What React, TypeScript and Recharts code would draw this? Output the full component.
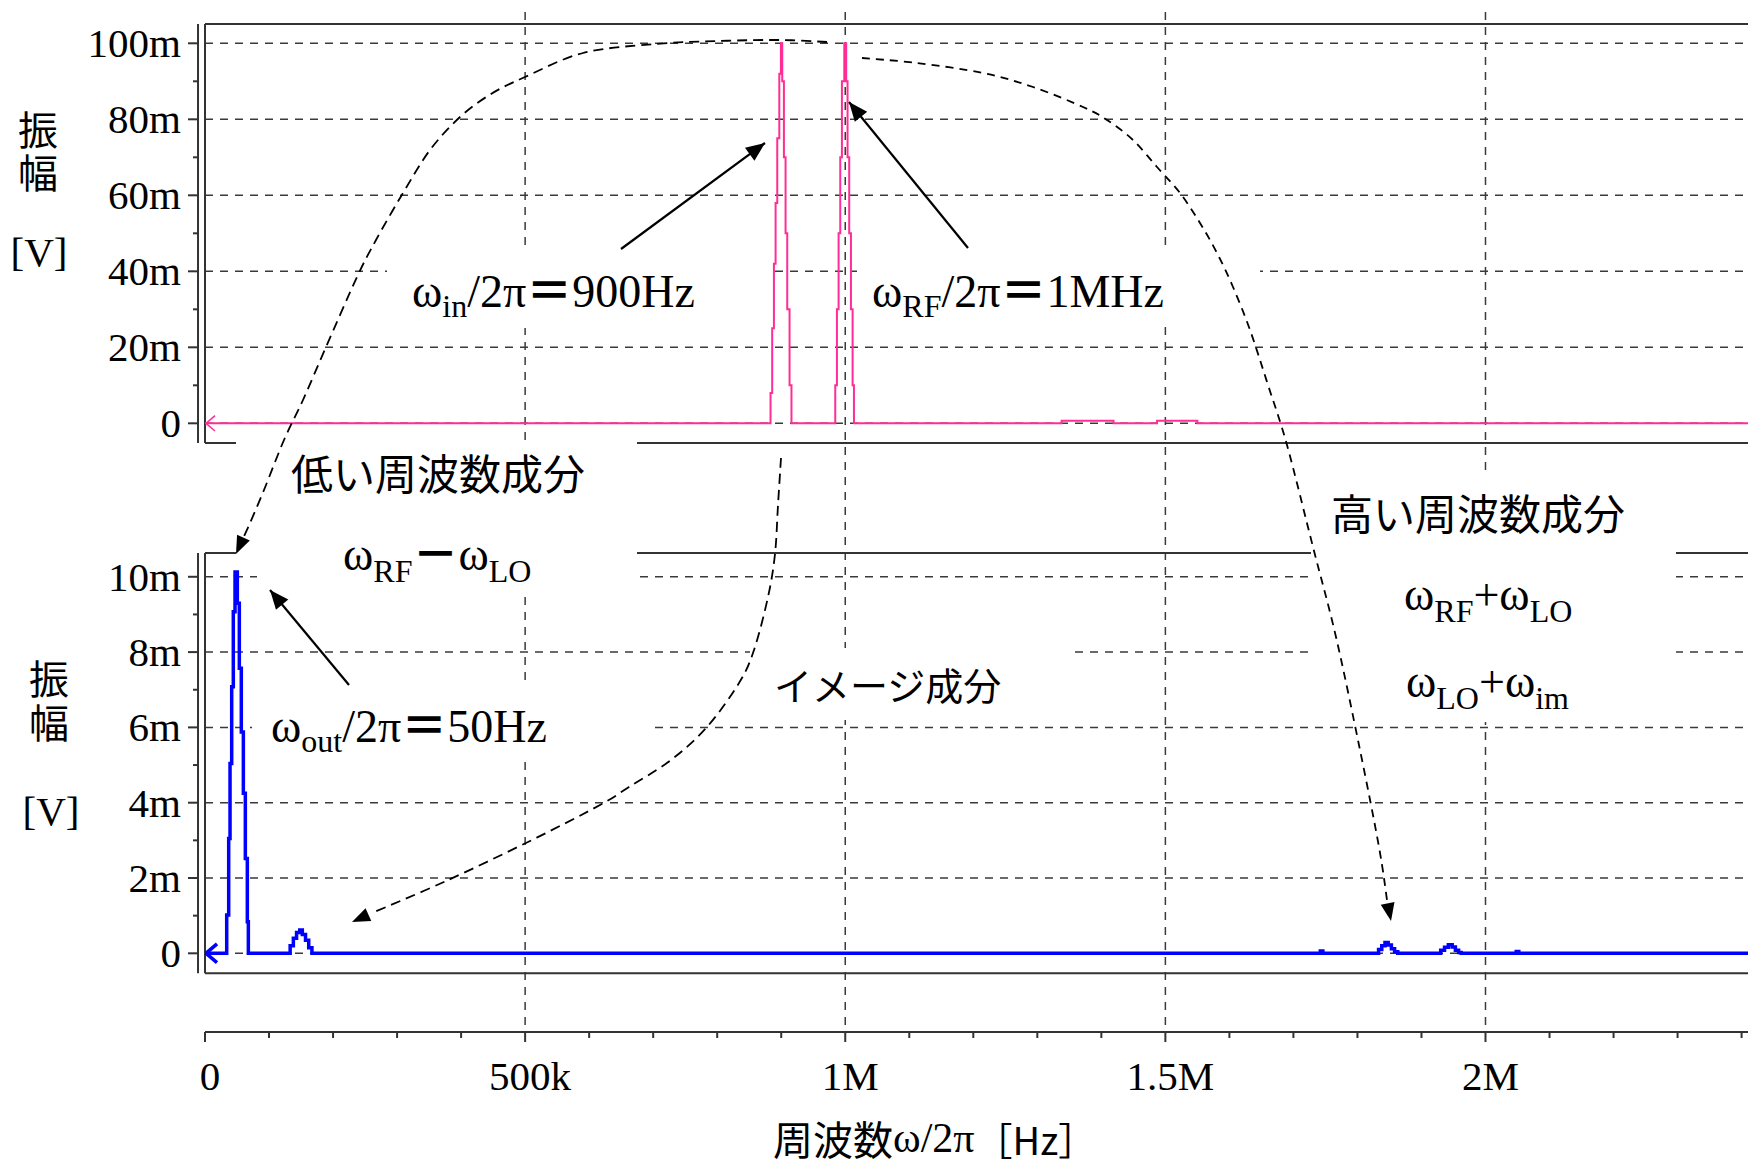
import React from "react";
import { LineChart, Line, XAxis, YAxis, CartesianGrid, ReferenceLine } from "recharts";

const W = 1748;
const H = 1167;

// upper panel: mixer input spectrum (amplitude in mV)
const topFreq = [
  0, 883300, 885900, 888600, 891200, 893800, 897000, 899500, 901600, 904200, 906800, 909400, 913000, 916000,
  984400, 987000, 989600, 992200, 994800, 998500, 1001500, 1003600, 1006200, 1008900, 1011500, 1013600,
  1338000, 1419000, 1487000, 1550000, 2410000,
];
const topAmp = [
  0, 8, 25, 42, 58, 75, 92, 100, 90, 70, 50, 30, 10, 0,
  10, 30, 50, 70, 90, 100, 90, 70, 50, 30, 10, 0,
  0.7, 0, 0.7, 0, 0,
];

// lower panel: mixer output spectrum (amplitude in mV)
const botFreq = [
  0, 33900, 37000, 39100, 41700, 44200, 46900, 50500, 53600, 56700, 59900, 63000, 66100, 67700,
  133000, 138000, 143000, 148000, 152000, 157000, 162000, 167000,
  1742000, 1746000,
  1833000, 1838000, 1843000, 1848000, 1853000, 1858000, 1863000,
  1930000, 1936000, 1942000, 1948000, 1953000, 1958000, 1962000,
  2048000, 2052000, 2410000,
];
const botAmp = [
  0, 1.02, 3.05, 5.04, 7.08, 9.07, 10.13, 9.3, 7.57, 5.88, 4.25, 2.52, 0.84, 0,
  0.2, 0.4, 0.55, 0.62, 0.5, 0.35, 0.15, 0,
  0.06, 0,
  0.1, 0.2, 0.29, 0.22, 0.12, 0.04, 0,
  0.08, 0.16, 0.23, 0.17, 0.08, 0.02, 0,
  0.05, 0, 0,
];

const xTicks = [
  0, 100000, 200000, 300000, 400000, 500000, 600000, 700000, 800000, 900000, 1000000, 1100000, 1200000,
  1300000, 1400000, 1500000, 1600000, 1700000, 1800000, 1900000, 2000000, 2100000, 2200000, 2300000, 2400000,
];
const xMajor = [0, 500000, 1000000, 1500000, 2000000];
const xLabels = ["0", "500k", "1M", "1.5M", "2M"];
const xGrid = [500000, 1000000, 1500000, 2000000];

const topYTicks = [0, 10, 20, 30, 40, 50, 60, 70, 80, 90, 100];
const topYMajor = [0, 20, 40, 60, 80, 100];
const topYLabels = ["0", "20m", "40m", "60m", "80m", "100m"];

const botYTicks = [0, 1, 2, 3, 4, 5, 6, 7, 8, 9, 10];
const botYMajor = [0, 2, 4, 6, 8, 10];
const botYLabels = ["0", "2m", "4m", "6m", "8m", "10m"];

const topData = topFreq.map((f, i) => ({ f, v: topAmp[i] }));
const botData = botFreq.map((f, i) => ({ f, v: botAmp[i] }));

const SERIF = "'Liberation Serif', 'Times New Roman', 'Noto Sans CJK JP', serif";
const CJK = "'Noto Sans CJK JP', 'Noto Sans CJK SC', sans-serif";
const PINK = "#ff2d95";
const BLUE = "#0000ff";
const FRAME = "#333";
const GRID = "#3a3a3a";

const X_DOMAIN: [number, number] = [0, 2410000];
const TOP_DOMAIN: [number, number] = [-5.18, 105.08];
const BOT_DOMAIN: [number, number] = [-2.09, 25.0];
const BOT_FRAME_TOP = 10.63;
const BOT_FRAME_BOTTOM = -0.53;
const OUTER_AXIS_X = -10900; // second vertical line just left of the frame

function makeYTick(major: number[], labels: string[]) {
  return (props: any) => {
    const { x, y, payload } = props;
    const i = major.indexOf(payload.value);
    return (
      <g>
        <line x1={i >= 0 ? x - 17 : x - 12} x2={x - 7} y1={y} y2={y} stroke={FRAME} strokeWidth={2} />
        {i >= 0 && (
          <text x={x - 24} y={y} textAnchor="end" dominantBaseline="central" fontFamily={SERIF} fontSize={41} fill="#000">
            {labels[i]}
          </text>
        )}
      </g>
    );
  };
}

const TopYTick = makeYTick(topYMajor, topYLabels);
const BotYTick = makeYTick(botYMajor, botYLabels);

function XTick(props: any) {
  const { x, y, payload } = props;
  const i = xMajor.indexOf(payload.value);
  return (
    <g>
      <line x1={x} x2={x} y1={y} y2={y + (i >= 0 ? 10 : 6)} stroke={FRAME} strokeWidth={2} />
      {i >= 0 && (
        <text x={x + 5} y={y + 44} textAnchor="middle" dominantBaseline="central" fontFamily={SERIF} fontSize={41} fill="#000">
          {xLabels[i]}
        </text>
      )}
    </g>
  );
}

function chevron(color: string, w: number, size: number) {
  return (props: any) => {
    const { cx, cy, index } = props;
    if (index !== 0) return <g key={index} />;
    return (
      <path
        key={index}
        d={`M${cx + size + 1},${cy - size * 0.85} L${cx + 1},${cy} L${cx + size + 1},${cy + size * 0.85}`}
        fill="none"
        stroke={color}
        strokeWidth={w}
      />
    );
  };
}

type P = [number, number];

function smooth(pts: P[]) {
  let d = `M${pts[0][0]},${pts[0][1]}`;
  for (let i = 0; i < pts.length - 1; i++) {
    const p0 = pts[i - 1] || pts[i];
    const p1 = pts[i];
    const p2 = pts[i + 1];
    const p3 = pts[i + 2] || p2;
    const c1x = p1[0] + (p2[0] - p0[0]) / 6;
    const c1y = p1[1] + (p2[1] - p0[1]) / 6;
    const c2x = p2[0] - (p3[0] - p1[0]) / 6;
    const c2y = p2[1] - (p3[1] - p1[1]) / 6;
    d += ` C${c1x},${c1y} ${c2x},${c2y} ${p2[0]},${p2[1]}`;
  }
  return d;
}

function head(tip: P, from: P, len = 18, half = 7) {
  const dx = tip[0] - from[0];
  const dy = tip[1] - from[1];
  const L = Math.hypot(dx, dy);
  const ux = dx / L;
  const uy = dy / L;
  const bx = tip[0] - ux * len;
  const by = tip[1] - uy * len;
  return `${tip[0]},${tip[1]} ${bx - uy * half},${by + ux * half} ${bx + uy * half},${by - ux * half}`;
}

// annotation geometry (pixels)
const leftEnv: P[] = [
  [827, 42], [780, 40], [720, 41], [655, 44], [583, 53], [525, 77], [491, 94], [460, 117], [430, 150],
  [403, 193], [376, 240], [357, 277], [326, 347], [303, 400], [284, 440], [264, 490], [250, 523], [241, 543],
];
const leftEnvTip: P = [236, 554];
const rightEnv: P[] = [
  [862, 58], [917, 63], [983, 73], [1033, 87], [1083, 107], [1107, 120], [1133, 140], [1157, 167], [1180, 193],
  [1200, 223], [1217, 253], [1233, 287], [1250, 330], [1268, 385], [1287, 445], [1313, 547], [1336, 637],
  [1360, 750], [1379, 847], [1387, 900],
];
const rightEnvTip: P = [1391, 921];
const imageCurve: P[] = [
  [781, 458], [778, 505], [775, 554], [768, 597], [754, 650], [739, 683], [707, 727], [671, 760], [629, 787],
  [600, 805], [532, 840], [446, 881], [372, 913],
];
const imageTip: P = [352, 922];

const solidArrows: { from: P; to: P }[] = [
  { from: [621, 249], to: [765, 143] },
  { from: [968, 248], to: [849, 102] },
  { from: [349, 685], to: [270, 590] },
];

const masks = [
  { x: 387, y: 245, w: 383, h: 83 },
  { x: 857, y: 245, w: 403, h: 82 },
  { x: 236, y: 441, w: 401, h: 119 },
  { x: 257, y: 555, w: 380, h: 37 },
  { x: 252, y: 683, w: 401, h: 79 },
  { x: 750, y: 648, w: 325, h: 72 },
  { x: 1311, y: 470, w: 365, h: 252 },
];

function Overlay() {
  const sub = 32;
  const vertical = { writingMode: "vertical-rl" as const };
  return (
    <svg width={W} height={H} style={{ position: "absolute", left: 0, top: 0 }}>
      {masks.map((m, i) => (
        <rect key={i} x={m.x} y={m.y} width={m.w} height={m.h} fill="#fff" />
      ))}
      <g fill="none" stroke="#000" strokeWidth={1.8} strokeDasharray="10 6">
        <path d={smooth(leftEnv)} />
        <path d={smooth(rightEnv)} strokeDasharray="8 6" />
        <path d={smooth(imageCurve)} />
      </g>
      <polygon points={head(leftEnvTip, leftEnv[leftEnv.length - 1])} fill="#000" />
      <polygon points={head(rightEnvTip, rightEnv[rightEnv.length - 1])} fill="#000" />
      <polygon points={head(imageTip, imageCurve[imageCurve.length - 1])} fill="#000" />
      {solidArrows.map((a, i) => (
        <g key={i}>
          <line x1={a.from[0]} y1={a.from[1]} x2={a.to[0]} y2={a.to[1]} stroke="#000" strokeWidth={2.2} />
          <polygon points={head(a.to, a.from, 19, 8)} fill="#000" />
        </g>
      ))}

      <g fontFamily={SERIF} fontSize={46} fill="#000">
        <text x={412} y={307}>
          ω<tspan fontSize={sub} dy={10}>in</tspan>
          <tspan dy={-10}>/2π</tspan>
          <tspan fontFamily={CJK} fontWeight={700}>＝</tspan>900Hz
        </text>
        <text x={872} y={307}>
          ω<tspan fontSize={sub} dy={10}>RF</tspan>
          <tspan dy={-10}>/2π</tspan>
          <tspan fontFamily={CJK} fontWeight={700}>＝</tspan>1MHz
        </text>
        <text x={343} y={570}>
          ω<tspan fontSize={sub} dy={12}>RF</tspan>
          <tspan dy={-12} fontFamily={CJK} fontWeight={700}>－</tspan>ω<tspan fontSize={sub} dy={12}>LO</tspan>
        </text>
        <text x={271} y={742}>
          ω<tspan fontSize={sub} dy={10}>out</tspan>
          <tspan dy={-10}>/2π</tspan>
          <tspan fontFamily={CJK} fontWeight={700}>＝</tspan>50Hz
        </text>
        <text x={1404} y={610}>
          ω<tspan fontSize={sub} dy={12}>RF</tspan>
          <tspan dy={-12}>+ω</tspan>
          <tspan fontSize={sub} dy={12}>LO</tspan>
        </text>
        <text x={1406} y={697}>
          ω<tspan fontSize={sub} dy={12}>LO</tspan>
          <tspan dy={-12}>+ω</tspan>
          <tspan fontSize={sub} dy={12}>im</tspan>
        </text>
        <text x={39} y={252} textAnchor="middle" dominantBaseline="central" fontSize={41}>[V]</text>
        <text x={51} y={811} textAnchor="middle" dominantBaseline="central" fontSize={41}>[V]</text>
      </g>

      <g fontFamily={CJK} fill="#000">
        <text x={291} y={471} fontSize={42} dominantBaseline="central">低い周波数成分</text>
        <text x={1331} y={511} fontSize={42} dominantBaseline="central">高い周波数成分</text>
        <text x={774} y={683} fontSize={38} dominantBaseline="central">イメージ成分</text>
        <text x={38} y={110} fontSize={40} letterSpacing={3} style={vertical}>振幅</text>
        <text x={49} y={659} fontSize={40} letterSpacing={4} style={vertical}>振幅</text>
      </g>

      <text x={773} y={1138} dominantBaseline="central" fill="#000">
        <tspan fontFamily={CJK} fontSize={40}>周波数</tspan>
        <tspan fontFamily={SERIF} fontSize={42}>ω/2π</tspan>
        <tspan fontFamily={CJK} fontSize={38}>［Hz］</tspan>
      </text>
    </svg>
  );
}

export default function App() {
  const gridDash = "8 7";
  return (
    <div style={{ position: "absolute", left: 0, top: 0, width: W, height: H, background: "#fff", overflow: "hidden" }}>
      {/* lower panel + shared frequency axis (its plot area also carries the vertical grid for the whole figure) */}
      <div style={{ position: "absolute", left: 0, top: 0 }}>
        <LineChart width={W} height={H} data={botData} margin={{ top: 12, right: 0, bottom: 0, left: 0 }}>
          <CartesianGrid
            stroke={GRID}
            strokeWidth={1.5}
            strokeDasharray={gridDash}
            horizontalValues={botYMajor}
            verticalValues={xGrid}
          />
          <XAxis
            dataKey="f"
            type="number"
            domain={X_DOMAIN}
            allowDataOverflow
            ticks={xTicks}
            interval={0}
            height={135}
            tickSize={0}
            tickMargin={0}
            tickLine={false}
            tick={XTick}
            axisLine={{ stroke: FRAME, strokeWidth: 2 }}
          />
          <YAxis
            type="number"
            domain={BOT_DOMAIN}
            allowDataOverflow
            ticks={botYTicks}
            interval={0}
            width={205}
            tickSize={0}
            tickMargin={0}
            tickLine={false}
            axisLine={false}
            tick={BotYTick}
          />
          <ReferenceLine
            ifOverflow="visible"
            stroke={FRAME}
            strokeWidth={2}
            segment={[{ x: 0, y: BOT_FRAME_TOP }, { x: X_DOMAIN[1], y: BOT_FRAME_TOP }]}
          />
          <ReferenceLine
            ifOverflow="visible"
            stroke={FRAME}
            strokeWidth={2}
            segment={[{ x: 0, y: BOT_FRAME_BOTTOM }, { x: X_DOMAIN[1], y: BOT_FRAME_BOTTOM }]}
          />
          <ReferenceLine
            ifOverflow="visible"
            stroke={FRAME}
            strokeWidth={2}
            segment={[{ x: 0, y: BOT_FRAME_BOTTOM }, { x: 0, y: BOT_FRAME_TOP }]}
          />
          <ReferenceLine
            ifOverflow="visible"
            stroke={FRAME}
            strokeWidth={2}
            segment={[{ x: OUTER_AXIS_X, y: BOT_FRAME_BOTTOM }, { x: OUTER_AXIS_X, y: BOT_FRAME_TOP }]}
          />
          <Line
            dataKey="v"
            type="stepAfter"
            stroke={BLUE}
            strokeWidth={3.5}
            dot={chevron(BLUE, 3.5, 11)}
            activeDot={false}
            isAnimationActive={false}
          />
        </LineChart>
      </div>

      {/* upper panel */}
      <div style={{ position: "absolute", left: 0, top: 0 }}>
        <LineChart width={W} height={H} data={topData} margin={{ top: 24, right: 0, bottom: H - 443, left: 0 }}>
          <CartesianGrid
            stroke={GRID}
            strokeWidth={1.5}
            strokeDasharray={gridDash}
            vertical={false}
            horizontalValues={topYMajor}
          />
          <XAxis dataKey="f" type="number" domain={X_DOMAIN} allowDataOverflow hide />
          <YAxis
            type="number"
            domain={TOP_DOMAIN}
            allowDataOverflow
            ticks={topYTicks}
            interval={0}
            width={205}
            tickSize={0}
            tickMargin={0}
            tickLine={false}
            axisLine={false}
            tick={TopYTick}
          />
          <ReferenceLine ifOverflow="visible" y={TOP_DOMAIN[1]} stroke={FRAME} strokeWidth={2} />
          <ReferenceLine ifOverflow="visible" y={TOP_DOMAIN[0]} stroke={FRAME} strokeWidth={2} />
          <ReferenceLine ifOverflow="visible" x={0} stroke={FRAME} strokeWidth={2} />
          <ReferenceLine ifOverflow="visible" x={OUTER_AXIS_X} stroke={FRAME} strokeWidth={2} />
          <Line
            dataKey="v"
            type="stepAfter"
            stroke={PINK}
            strokeWidth={2}
            dot={chevron(PINK, 1.5, 9)}
            activeDot={false}
            isAnimationActive={false}
          />
        </LineChart>
      </div>

      <Overlay />
    </div>
  );
}
